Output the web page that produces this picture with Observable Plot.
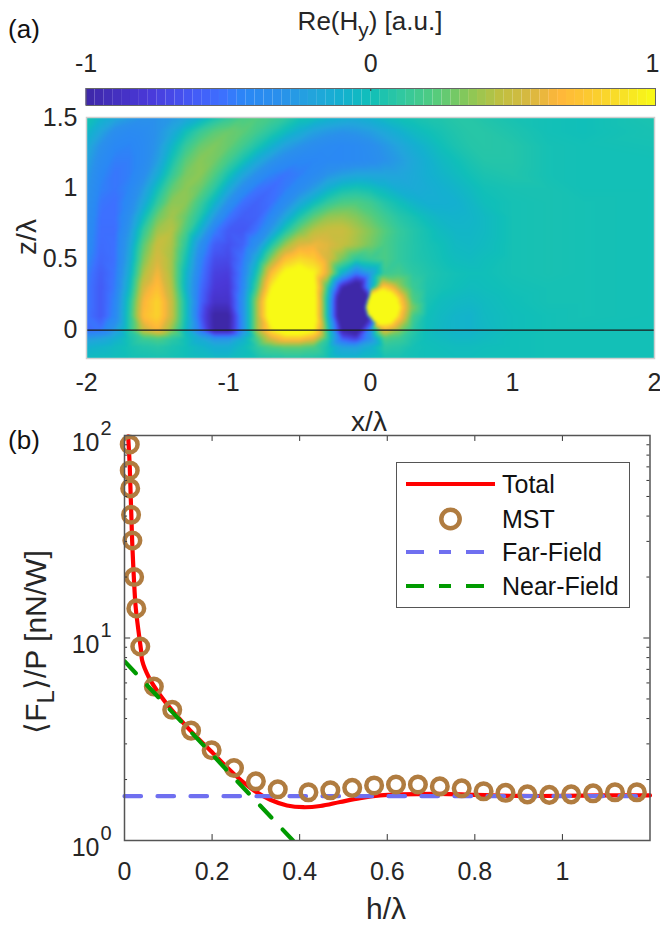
<!DOCTYPE html>
<html><head><meta charset="utf-8">
<script src="https://cdn.jsdelivr.net/npm/d3@7"></script>
<script src="https://cdn.jsdelivr.net/npm/@observablehq/plot@0.6"></script>
<style>
html,body{margin:0;padding:0;background:#fff}
#page{position:relative;width:660px;height:927px;overflow:hidden;font-family:"Liberation Sans",Arial,sans-serif;color:#262626}
#page svg{position:absolute;left:0;overflow:visible;background:transparent}
.t{position:absolute;white-space:nowrap;line-height:1}
.t sub{font-size:0.8em;line-height:0;vertical-align:-0.32em}
#legend{position:absolute;left:396px;top:462px;width:232px;height:144px;border:1.5px solid #555;background:#fff}
#legend span{position:absolute;left:105px;font-size:25px;color:#111;line-height:1}
#legend svg{position:absolute;left:0;top:0}
</style></head><body><div id="page"></div>
<script>
// ---------- panel (a): field samples Re(Hy) ----------
const fieldX = [-2,-1.9,-1.8,-1.7,-1.6,-1.5,-1.4,-1.3,-1.2,-1.1,-1,-.9,-.8,-.7,-.6,-.5,-.4,-.3,-.2,-.1,0,.1,.2,.3,.4,.5,.6,.7,.8,1,1.25,1.5,2];
const z150=[.05,-.07,-.17,-.25,-.3,-.3,-.27,-.2,-.1,.03,.12,.2,.22,.18,.12,.03,0,-.06,-.1,-.12,-.08,-.03,.01,.03,.05,.06,.08,.08,.06,.03,.01,0,.04];
const z140=[-.04,-.2,-.35,-.4,-.38,-.3,-.18,0,.14,.24,.28,.25,.17,.08,-.02,-.12,-.22,-.27,-.3,-.28,-.24,-.17,-.1,-.04,0,.03,.06,.08,.08,.05,.01,0,.03];
const z130=[-.14,-.32,-.43,-.45,-.4,-.28,-.07,.13,.27,.32,.27,.17,.05,-.08,-.22,-.3,-.36,-.4,-.42,-.4,-.35,-.28,-.2,-.12,-.06,0,.04,.07,.08,.07,.02,.01,.02];
const z120=[-.2,-.38,-.47,-.47,-.4,-.24,.02,.24,.34,.3,.18,.03,-.14,-.28,-.38,-.43,-.44,-.42,-.42,-.4,-.37,-.31,-.25,-.17,-.1,-.04,0,.04,.07,.07,.02,.01,.01];
const z110=[-.25,-.43,-.5,-.47,-.36,-.14,.12,.31,.35,.22,.03,-.17,-.33,-.45,-.5,-.47,-.4,-.3,-.24,-.2,-.2,-.2,-.2,-.16,-.11,-.07,-.03,.01,.04,.06,.02,.01,.01];
const z100=[-.28,-.46,-.5,-.44,-.26,0,.25,.35,.28,.1,-.14,-.36,-.5,-.54,-.48,-.38,-.25,-.1,0,.03,0,-.06,-.13,-.15,-.13,-.1,-.07,-.03,.01,.03,.03,.01,.01];
const z090=[-.3,-.5,-.52,-.4,-.17,.12,.35,.35,.16,-.06,-.33,-.52,-.58,-.52,-.38,-.18,-.02,.12,.2,.21,.16,.07,0,-.07,-.11,-.11,-.1,-.06,-.01,.02,.03,.02,.01];
const z080=[-.33,-.52,-.52,-.34,-.03,.28,.4,.27,.06,-.25,-.5,-.6,-.58,-.42,-.18,.05,.24,.36,.38,.33,.25,.16,.08,.03,-.03,-.07,-.08,-.07,-.04,.02,.03,.02,.01];
const z070=[-.36,-.53,-.53,-.28,.12,.4,.44,.2,-.11,-.47,-.62,-.63,-.5,-.25,.06,.3,.45,.5,.5,.42,.33,.23,.13,.07,.02,-.03,-.06,-.06,-.04,.02,.03,.02,.01];
const z060=[-.38,-.54,-.52,-.22,.24,.5,.42,.1,-.33,-.6,-.66,-.58,-.33,.06,.38,.58,.62,.58,.48,.4,.3,.2,.12,.07,.03,0,-.04,-.05,-.03,.02,.03,.02,.01];
const z050=[-.42,-.56,-.52,-.18,.32,.56,.4,.02,-.42,-.68,-.7,-.5,-.12,.35,.72,.85,.78,.55,.3,.1,.15,.2,.12,.07,.04,.01,-.02,-.03,-.01,.02,.03,.02,.01];
const z040=[-.46,-.6,-.5,-.12,.42,.64,.4,-.06,-.47,-.74,-.76,-.45,.05,.7,1.05,1.15,1,.55,-.1,-.5,-.25,.15,.18,.1,.06,.03,.01,0,0,.02,.03,.02,.01];
const z030=[-.48,-.62,-.48,-.05,.55,.72,.44,-.08,-.52,-.78,-.8,-.42,.2,.95,1.3,1.4,1.1,.1,-.95,-1.3,-.2,.8,.42,.15,.05,.02,0,-.02,-.01,.01,.02,.02,.01];
const z020=[-.48,-.62,-.44,.05,.65,.82,.5,0,-.55,-.85,-.85,-.35,.4,1.2,1.5,1.5,1.15,-.05,-1.4,-1.5,1.1,1.5,.85,.22,.03,-.02,-.04,-.05,-.03,0,.02,.02,.01];
const z010=[-.5,-.62,-.42,.08,.7,.82,.5,0,-.6,-1.02,-1.02,-.35,.4,1.2,1.5,1.5,1.15,-.05,-1.4,-1.5,.7,1.4,.82,.18,0,-.04,-.07,-.08,-.04,-.01,.01,.02,.01];
const z000=[-.55,-.5,-.25,.08,.5,.65,.35,-.05,-.5,-1,-1,-.35,.4,.9,1.2,1.2,1,.1,-1,-1.2,-.35,.6,.35,.1,-.01,-.05,-.07,-.08,-.05,-.01,.01,.01,.01];
const zm06=[-.25,-.2,-.1,.03,.15,.2,.1,0,-.15,-.3,-.3,-.1,.2,.55,.75,.75,.6,.1,-.6,-.75,-.35,.2,.15,.05,-.01,-.03,-.05,-.05,-.03,0,.01,.01,.01];
const zm12=[-.1,-.07,-.03,.02,.06,.08,.04,0,-.06,-.12,-.12,-.03,.1,.2,.25,.25,.2,.03,-.2,-.22,-.1,.1,.08,.02,0,-.01,-.02,-.02,-.01,0,.01,.01,.01];
const zm20=[-.03,-.02,-.01,.01,.02,.03,.02,0,-.02,-.04,-.04,-.01,.03,.06,.07,.07,.06,.01,-.06,-.06,-.03,.03,.03,.01,0,0,-.01,-.01,0,0,.01,.01,.01];
const fieldZ = [1.5,1.4,1.3,1.2,1.1,1,.9,.8,.7,.6,.5,.4,.3,.2,.1,0,-.06,-.12,-.2];
const fieldRows = [z150,z140,z130,z120,z110,z100,z090,z080,z070,z060,z050,z040,z030,z020,z010,z000,zm06,zm12,zm20];
// extra samples around the small bright lobe near the line
const lobeX=[.187,.173,.135,.082,.03,-.009,-.023,-.009,.03,.082,.135,.173, .172,.16,.127,.082,.037,.004,-.008,.004,.037,.082,.127,.16, .227,.208,.155,.082,.01,.208,.155,.082, -.026,-.043,-.026,.02, .282,.255,.182,.082,.255, .19,.161,.111,.053,.003,.19,.161,.111,.053];
const lobeZ=[.16,.213,.251,.265,.251,.213,.16,.108,.069,.055,.069,.108, .16,.205,.238,.25,.238,.205,.16,.115,.082,.07,.082,.115, .16,.233,.286,.305,.286,.088,.034,.015, .222,.16,.098,.052, .16,.26,.333,.36,.06, .189,.239,.268,.268,.239,.131,.081,.052,.052];
const lobeV=[1.2,1.2,1.2,1.2,1.2,1.2,1.2,1.2,1.2,1.2,1.2,1.2, 1.4,1.4,1.4,1.4,1.4,1.4,1.4,1.4,1.4,1.4,1.4,1.4, .72,.72,.72,.72,.35,.72,.72,.6, -1.2,-1.2,-1.2,-.5, .36,.36,.36,.36,.36, 1.02,1.02,1.02,1.02,1.02,1.02,1.02,1.02,1.02];
const colorTicks=[-1,0];
const colorTickEnd=[1];
const aXTicks=[-2,-1,0,1,2];
const aZTicks=[0,.5,1,1.5];
const parulaT=[0,.11,.185,.24,.28,.34,.4,.45,.5,.555,.61,.67,.73,.78,.83,.88,.94,1];
const parulaC=["#3e28a8","#4a38d8","#4458f5","#3d70ff","#2a88f5","#2a90ec","#22a5dc","#14b0d0","#10bfb9","#30c8a0","#50cc80","#88c858","#c0c040","#d8b840","#ffb63a","#fcc830","#f8e028","#f8fa15"];

// ---------- panel (b): force curves ----------
const mstH=[.012,.012,.013,.015,.018,.022,.027,.036,.067,.109,.152,.199,.25,.30,.35,.42,.47,.52,.57,.62,.67,.72,.77,.82,.87,.92,.97,1.02,1.07,1.12,1.17];
const mstF=[90.3,67.2,54.8,40.6,30.3,20,14,9.08,5.76,4.42,3.49,2.79,2.28,1.96,1.79,1.73,1.77,1.82,1.87,1.89,1.89,1.85,1.81,1.75,1.72,1.69,1.68,1.69,1.71,1.73,1.73];
const totalH=[.0084,.012,.0175,.0213,.0258,.038,.0403,.0555,.082,.1087,.1505,.2,.25,.295,.333,.371,.409,.447,.4925,.538,.584,.63,.72,.8,.9,1,1.1,1.2];
const totalF=[99,70,30,20,14,8.6,7.74,6.4,5.2,4.39,3.49,2.73,2.13,1.77,1.59,1.49,1.46,1.48,1.55,1.62,1.67,1.69,1.70,1.68,1.66,1.66,1.67,1.67];
const farH=[0,1.2], farF=[1.655,1.655];
const nearH=[0,.3846], nearF=[7.68,1];
const bXTicks=[0,.2,.4,.6,.8,1];
const bYMajor=[1,10,100];
const bYExp=["0","1","2"];
const bYMinor=[2,3,4,5,6,7,8,9,20,30,40,50,60,70,80,90];

const page=document.getElementById("page");
const tScale=d3.scaleLinear().domain(parulaT).range(parulaC).interpolate(d3.interpolateRgb);
const colorScale={type:"linear",domain:[-1,1],interpolate:t=>tScale(t),clamp:true};
const TICK="#333";
const base={width:660,style:{fontFamily:"'Liberation Sans',Arial,sans-serif",color:"#262626",background:"transparent"}};

// colour bar
const bins=d3.range(64).map(i=>({a:-1+i/32,b:-1+(i+1)/32}));
const bar=Plot.plot({...base,height:110,marginLeft:85.5,marginRight:5,marginTop:88,marginBottom:5,
  x:{domain:[-1,1],axis:null},y:{domain:[0,1],axis:null},color:colorScale,
  marks:[
    Plot.rectY(bins,{x1:"a",x2:"b",y1:0,y2:1,fill:d=>(d.a+d.b)/2}),
    Plot.ruleX([0],{y1:.82,y2:1,stroke:"#333"}),
    Plot.frame({stroke:"#666",strokeWidth:1}),
    Plot.text(colorTicks,{x:d=>d,y:1,text:d=>String(d),dy:-25,fontSize:25,fill:"#262626"}),
    Plot.text(colorTickEnd,{x:d=>d,y:1,text:d=>String(d),dy:-25,dx:-3,fontSize:25,fill:"#262626"})
  ]});
bar.style.top="0px";page.appendChild(bar);

// field map
const pts=fieldRows.flatMap((r,j)=>r.map((v,i)=>({x:fieldX[i],z:fieldZ[j],v})))
  .concat(lobeX.map((x,i)=>({x,z:lobeZ[i],v:lobeV[i]})));
const hm=Plot.plot({...base,height:310,marginLeft:86,marginRight:6,marginTop:5,marginBottom:64,
  x:{domain:[-2,2]},y:{domain:[-.2,1.5]},color:colorScale,
  marks:[
    Plot.raster(pts,{x:"x",y:"z",fill:"v",x1:-2,x2:2,y1:-.2,y2:1.5,interpolate:"barycentric",pixelSize:1,blur:1}),
    Plot.ruleY([0],{stroke:"#1a1a1a",strokeWidth:1.2}),
    Plot.frame({stroke:"#cfcfcf",strokeWidth:1.5}),
    Plot.axisX(aXTicks,{anchor:"bottom",tickSize:0,tickPadding:15,fontSize:25,tickFormat:d=>String(d),label:null}),
    Plot.axisY(aZTicks,{anchor:"left",tickSize:0,tickPadding:9,fontSize:25,tickFormat:d=>String(d),label:null})
  ]});
hm.style.top="112px";page.appendChild(hm);

// force plot
const zip=(a,b)=>a.map((h,i)=>({h,f:b[i]}));
const fp=Plot.plot({...base,height:507,marginLeft:124,marginRight:10.5,marginTop:15,marginBottom:87,
  x:{domain:[0,1.2]},y:{type:"log",domain:[1,100],axis:null},
  marks:[
    Plot.line(zip(totalH,totalF),{x:"h",y:"f",stroke:"#ff0000",strokeWidth:4.2,curve:"catmull-rom"}),
    Plot.line(zip(farH,farF),{x:"h",y:"f",stroke:"#6f6ff0",strokeWidth:4.2,strokeDasharray:"16.5 16.5"}),
    Plot.dot(zip(mstH,mstF),{x:"h",y:"f",r:7.8,stroke:"#b07c40",strokeWidth:4.5,fill:"none"}),
    Plot.line(zip(nearH,nearF),{x:"h",y:"f",stroke:"#009a00",strokeWidth:4.2,strokeDasharray:"16.5 16.5",clip:true}),
    Plot.ruleX(bXTicks,{x:d=>d,y1:1,y2:1.07,stroke:TICK}),
    Plot.ruleX(bXTicks,{x:d=>d,y1:100,y2:100/1.07,stroke:TICK}),
    Plot.ruleY(bYMajor,{y:d=>d,x1:0,x2:.014,stroke:TICK}),
    Plot.ruleY(bYMajor,{y:d=>d,x1:1.2,x2:1.186,stroke:TICK}),
    Plot.ruleY(bYMinor,{y:d=>d,x1:0,x2:.007,stroke:TICK}),
    Plot.ruleY(bYMinor,{y:d=>d,x1:1.2,x2:1.193,stroke:TICK}),
    Plot.frame({stroke:"#555",strokeWidth:1.5}),
    Plot.axisX(bXTicks,{anchor:"bottom",tickSize:0,tickPadding:22,fontSize:25,tickFormat:d=>String(d),label:null}),
    Plot.text(bYMajor,{x:0,y:d=>d,text:()=>"10",textAnchor:"end",dx:-25,dy:7,fontSize:25,fill:"#262626"}),
    Plot.text(bYMajor,{x:0,y:d=>d,text:(d,i)=>bYExp[i],textAnchor:"start",dx:-24,dy:-7,fontSize:20,fill:"#262626"})
  ]});
fp.style.top="420px";page.appendChild(fp);

// text outside the marks
function label(html,x,y,size,opts={}){
  const d=document.createElement("div");d.className="t";d.innerHTML=html;
  d.style.left=x+"px";d.style.top=y+"px";d.style.fontSize=size+"px";
  d.style.transform=(opts.rot?"translate(-50%,-50%) rotate(-90deg)":"translate(-50%,-50%)");
  if(opts.color)d.style.color=opts.color;
  page.appendChild(d);
}
label("(a)",24,29,26,{color:"#111"});
label("(b)",24,440,26,{color:"#111"});
label("Re(H<sub>y</sub>) [a.u.]",370,21,26);
label("x/λ",369,422,28);
label("z/λ",27,237,28,{rot:true});
label("h/λ",386,909,30);
label("⟨F<sub>L</sub>⟩/P [nN/W]",36,642,30,{rot:true});

// legend
const lg=document.createElement("div");lg.id="legend";
const rows=[["Total",21],["MST",56],["Far-Field",89],["Near-Field",123]];
lg.innerHTML=`<svg width="232" height="144">
<line x1="9" x2="98" y1="21" y2="21" stroke="#ff0000" stroke-width="4.2"/>
<circle cx="53.5" cy="56" r="9.2" fill="none" stroke="#b07c40" stroke-width="4.5"/>
<line x1="9" x2="98" y1="89" y2="89" stroke="#6f6ff0" stroke-width="4.2" stroke-dasharray="18 15 12 15 18"/>
<line x1="9" x2="98" y1="123" y2="123" stroke="#009a00" stroke-width="4.2" stroke-dasharray="18 15 12 15 18"/>
</svg>`+rows.map(r=>`<span style="top:${r[1]-12}px">${r[0]}</span>`).join("");
page.appendChild(lg);
</script></body></html>
